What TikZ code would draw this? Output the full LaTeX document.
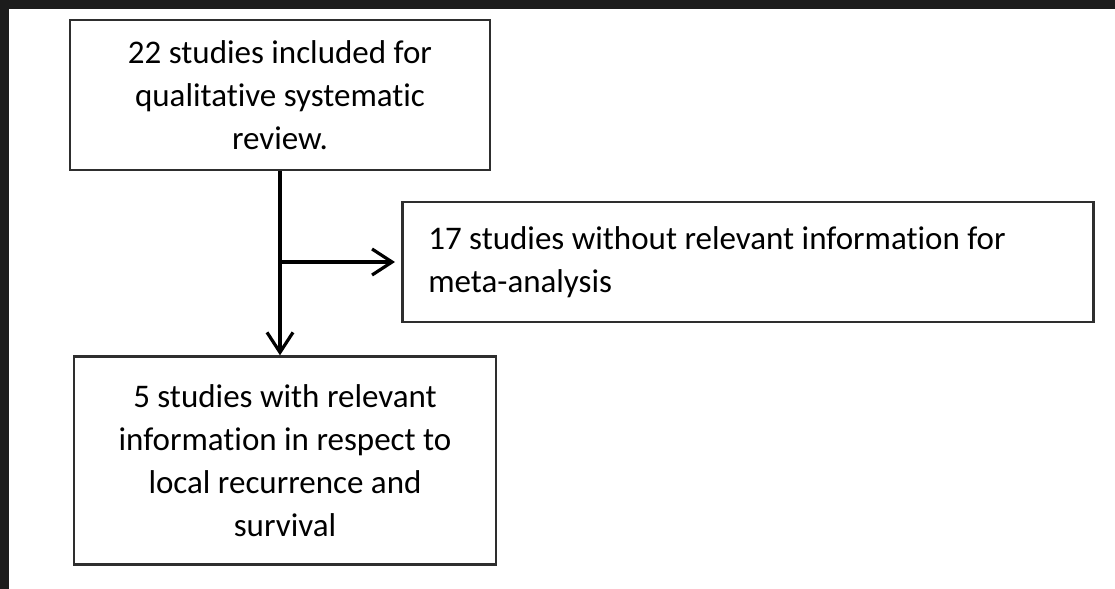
\documentclass[tikz,border=0pt]{standalone}
\usepackage{fontspec}
\setmainfont{Carlito}[Ligatures={NoCommon}]
\usetikzlibrary{arrows.meta,positioning,calc}
\definecolor{framedark}{HTML}{1C1C1C}
\definecolor{boxline}{HTML}{2E2E2E}

\begin{document}
\begin{tikzpicture}[x=0.5pt,y=-0.5pt,>={Straight Barb[length=10pt,width=13pt]}]
  \tikzset{
    flowbox/.style={draw=boxline, line width=1.3pt, inner sep=0pt,
      font=\fontsize{16.5pt}{21.5pt}\selectfont},
    link/.style={->, line width=1.6pt, black}
  }
  % dark frame of the screenshot
  \useasboundingbox (0,0) rectangle (1115,589);
  \fill[framedark] (0,0) rectangle (1115,589);
  \fill[white] (9,9) rectangle (1115,589);
  \node[flowbox, align=center, minimum width=210pt, minimum height=75pt] (incl) at (280,95)
    {22 studies included for\\ qualitative systematic\\ review.};
  \node[flowbox, align=center, minimum width=211pt, minimum height=104pt,
    below=92pt of incl, xshift=2.5pt] (relev)
    {5 studies with relevant\\ information in respect to\\ local recurrence and\\ survival};
  \node[flowbox, anchor=west, align=flush left, text width=319.5pt, inner xsep=13pt,
    minimum height=60pt] (excl) at (401,262)
    {17 studies without relevant information for\\ meta-analysis};
  \coordinate (split) at (incl.south |- excl.west);
  \draw[link] (incl.south) -- (incl.south |- relev.north);
  \draw[link, shorten >=3pt] (split) -- (excl.west);
\end{tikzpicture}
\end{document}
